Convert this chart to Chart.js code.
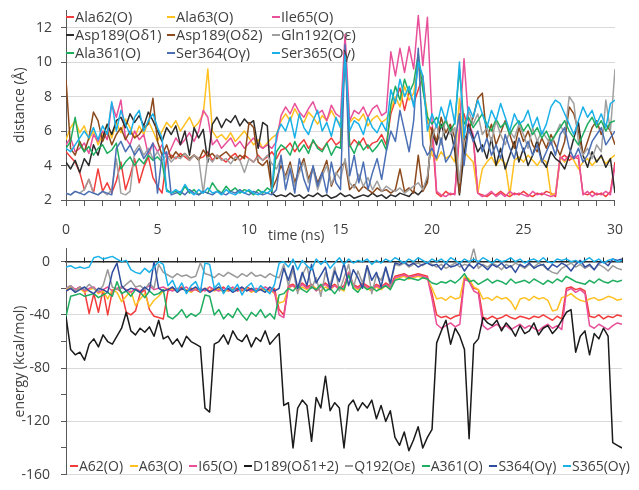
<!DOCTYPE html>
<html>
<head>
<meta charset="utf-8">
<script src="https://cdn.jsdelivr.net/npm/chart.js@4.4.1/dist/chart.umd.min.js"></script>
<style>
 body{margin:0;width:639px;height:490px;position:relative;overflow:hidden;background:#fff;font-family:"Open Sans",sans-serif;color:#404040}
 canvas{position:absolute;left:0}
 #distChart{top:-7px}
 #energyChart{top:229px}
 .legend{position:absolute;font-size:14.5px;line-height:18px;white-space:nowrap}
 #distLegend{left:66px;top:8px;display:grid;grid-template-columns:101px 105px auto;grid-auto-rows:18px}
 #energyLegend{left:70px;top:457px;width:560px;display:flex;justify-content:space-between;font-size:14px}
 .item{display:flex;align-items:center}
 .sw{display:inline-block;width:8px;height:2px;margin-right:1px}
 #timeTitle{position:absolute;left:268px;top:225px;font-size:14px;line-height:20px}
</style>
</head>
<body>
<canvas id="distChart" width="639" height="252"></canvas>
<canvas id="energyChart" width="639" height="265"></canvas>
<div id="distLegend" class="legend"></div>
<div id="energyLegend" class="legend"></div>
<div id="timeTitle">time (ns)</div>
<script>
/* ===== data ===== */
const timeNs = [
 0,0.25,0.5,0.75,1,1.25,1.5,1.75,2,2.25,2.5,2.75,3,3.25,3.5,3.75,4,4.25,4.5,4.75,
 5,5.25,5.5,5.75,6,6.25,6.5,6.75,7,7.25,7.5,7.75,8,8.25,8.5,8.75,9,9.25,9.5,9.75,
 10,10.25,10.5,10.75,11,11.25,11.5,11.75,12,12.25,12.5,12.75,13,13.25,13.5,13.75,14,14.25,14.5,14.75,
 15,15.25,15.5,15.75,16,16.25,16.5,16.75,17,17.25,17.5,17.75,18,18.25,18.5,18.75,19,19.25,19.5,19.75,
 20,20.25,20.5,20.75,21,21.25,21.5,21.75,22,22.25,22.5,22.75,23,23.25,23.5,23.75,24,24.25,24.5,24.75,
 25,25.25,25.5,25.75,26,26.25,26.5,26.75,27,27.25,27.5,27.75,28,28.25,28.5,28.75,29,29.25,29.5,29.75,
 30];

// distance (Å)
const distNames = ["Ala62(O)","Ala63(O)","Ile65(O)","Asp189(Oδ1)","Asp189(Oδ2)","Gln192(Oε)","Ala361(O)","Ser364(Oγ)","Ser365(Oγ)"];
const distColors = ["#f23c3c","#ffc020","#e8509a","#2b2b2b","#8c4a1c","#a0a0a0","#1fae5f","#4a6fb5","#1ab0e8"];

const distAla62 = [
 4.8,4.5,4.2,3.6, 2.6,3.2,2.4,3.8, 2.5,3.0,2.4,3.1, 4.2,2.6,3.4,4.4, 3.0,3.9,4.5,3.3,
 2.8,2.4,4.4,4.6, 4.4,4.7,4.5,4.3, 4.6,4.4,4.5,4.8, 4.3,4.6,4.4,4.2, 4.5,4.7,4.3,4.6,
 4.4,4.2,4.6,4.3, 4.5,4.8,4.4,4.9, 5.0,5.3,4.8,5.2, 5.5,5.0,5.4,5.1, 4.9,5.3,5.6,5.2,
 5.4,11.3,5.1,5.5, 5.2,5.6,5.0,5.3, 5.4,5.8,5.2,7.0, 7.8,8.5,7.2,8.3, 7.6,8.4,9.2,6.5,
 6.0,2.4,2.2,2.5, 2.3,2.4,5.8,7.0, 6.0,5.6,2.4,2.3, 2.2,2.4,2.3,2.5, 2.3,2.2,2.4,2.3,
 2.5,2.3,2.2,2.4, 2.3,2.5,2.4,2.2, 4.4,4.6,4.3,4.5, 4.4,2.4,2.3,2.5, 2.3,2.4,2.2,2.5,
 4.2];
const distAla63 = [
 5.5,6.2,6.6,5.9, 6.3,5.5,6.0,5.2, 5.8,6.4,5.6,6.5, 5.9,6.7,6.2,5.6, 6.3,5.8,6.6,6.0,
 5.4,6.0,6.5,6.2, 6.6,6.0,6.4,6.8, 6.2,6.5,7.0,9.6, 6.0,5.6,5.8,5.5, 5.9,5.4,5.7,6.0,
 5.6,5.2,5.5,5.0, 5.3,5.6,5.8,6.6, 7.0,6.6,7.3,6.8, 6.5,7.1,6.8,6.4, 6.9,6.6,7.2,6.7,
 6.4,10.2,6.5,6.8, 6.6,7.0,6.3,6.7, 6.9,6.5,6.7,7.2, 8.0,7.4,8.6,7.8, 8.2,9.8,8.5,7.0,
 4.6,4.3,4.8,4.4, 4.6,4.2,7.9,4.8, 4.5,4.2,2.4,3.8, 4.2,4.5,4.0,4.4, 4.1,2.3,4.3,4.5,
 4.2,4.6,4.3,4.0, 4.4,4.2,2.3,2.4, 4.5,4.2,4.6,4.3, 3.8,4.2,4.4,4.0, 4.3,4.5,4.1,4.4,
 4.6];
const distIle65 = [
 5.2,5.6,4.8,5.0, 5.3,4.7,5.8,5.4, 6.0,5.5,7.6,6.8, 7.8,5.6,5.2,6.0, 5.5,5.8,4.6,5.3,
 4.8,5.2,4.5,5.0, 5.6,5.2,5.5,5.9, 5.4,6.0,7.2,6.8, 5.2,5.5,5.0,5.3, 5.6,5.1,5.4,5.0,
 5.3,5.6,5.2,5.0, 5.2,5.0,5.4,6.9, 7.4,7.0,7.6,7.1, 6.8,7.3,7.7,7.0, 7.2,6.6,7.5,7.0,
 6.8,11.6,6.6,7.2, 7.0,7.4,6.8,7.3, 7.5,6.9,7.1,10.6, 9.2,10.8,9.4,10.9, 9.6,12.7,9.8,12.6,
 6.7,2.5,2.3,2.2, 2.4,2.3,6.2,10.2, 6.5,5.8,2.4,2.2, 2.3,2.5,2.2,2.4, 2.2,2.5,2.3,2.4,
 2.3,2.2,2.5,2.3, 2.4,2.3,2.2,2.3, 4.5,4.3,4.6,4.4, 4.6,2.3,2.5,2.2, 2.4,2.3,2.5,2.3,
 4.0];
const distAsp189d1 = [
 4.2,3.8,4.3,3.6, 4.4,4.0,5.2,4.6, 5.6,6.4,5.8,6.6, 6.8,6.2,7.0,6.5, 6.9,6.3,7.1,6.6,
 6.0,5.4,6.2,5.8, 6.3,5.2,6.0,4.6, 6.2,5.6,6.1,4.2, 6.4,6.8,6.2,6.7, 6.5,6.9,6.3,6.7,
 6.4,6.6,5.0,6.5, 6.3,2.4,2.2,2.3, 2.2,2.4,2.2,2.3, 2.1,2.3,2.2,2.4, 2.2,2.3,2.1,2.2,
 2.4,2.2,2.3,2.1, 2.2,2.3,2.2,2.4, 2.2,2.3,2.1,2.3, 2.2,2.4,2.3,2.2, 2.5,2.3,2.6,3.2,
 6.0,5.2,6.4,5.5, 6.2,4.8,2.3,4.6, 6.4,5.6,4.8,5.2, 4.4,5.6,4.0,5.0, 3.8,4.6,5.4,4.2,
 5.0,4.0,4.6,5.5, 4.3,3.9,4.8,4.4, 4.2,3.8,4.6,5.6, 6.5,4.6,3.9,4.8, 4.2,4.6,3.9,4.4,
 2.4];
const distAsp189d2 = [
 9.0,5.0,4.6,5.4, 4.8,5.6,7.1,6.6, 5.4,6.0,5.2,5.8, 6.2,5.5,6.0,5.6, 5.8,6.2,6.4,7.9,
 5.4,4.6,5.2,4.4, 4.8,4.5,4.7,4.4, 4.6,4.3,4.9,4.5, 4.7,4.4,4.6,4.8, 4.5,4.3,4.6,4.4,
 6.5,6.2,4.2,4.0, 4.3,2.6,3.2,4.0, 3.4,4.2,3.0,3.8, 4.4,3.2,3.9,3.0, 3.6,4.3,2.8,3.5,
 3.9,4.2,2.6,2.9, 2.5,2.8,2.6,2.4, 2.7,2.5,2.6,2.4, 2.6,3.8,2.5,2.7, 2.4,4.6,2.5,3.0,
 6.2,5.4,6.8,5.9, 6.4,5.6,2.4,5.5, 6.0,6.8,7.9,8.2, 5.6,6.4,5.2,5.9, 6.6,5.8,5.0,6.2,
 5.4,6.0,5.2,4.8, 5.6,5.0,5.8,5.2, 4.6,5.4,7.4,7.0, 6.0,4.6,5.4,6.2, 6.6,5.8,6.4,6.0,
 5.2];
const distGln192 = [
 2.4,2.3,2.5,2.4, 2.6,3.2,2.4,2.3, 2.5,2.3,2.6,4.4, 2.4,2.3,2.5,4.8, 5.2,4.6,5.0,4.4,
 4.8,4.3,4.6,4.2, 4.5,4.4,4.7,4.3, 4.6,4.4,2.4,4.5, 4.2,4.6,4.3,4.4, 4.1,4.5,4.3,3.6,
 4.4,4.2,4.5,4.3, 4.6,4.1,3.8,4.4, 3.2,4.0,2.8,3.6, 4.2,3.0,3.8,2.6, 3.4,4.0,2.9,3.6,
 3.2,4.4,3.0,2.7, 3.5,2.8,3.3,2.6, 3.1,2.5,2.8,2.6, 2.5,2.7,2.4,2.6, 2.8,3.0,2.6,3.4,
 5.6,6.4,5.2,6.8, 5.8,6.2,3.0,6.0, 7.2,6.4,7.0,5.8, 6.2,5.4,6.6,5.8, 5.2,6.0,5.6,6.4,
 5.8,5.0,6.2,5.4, 6.0,5.6,5.2,5.8, 6.4,5.8,8.0,7.6, 5.4,4.6,5.0,4.4, 5.2,4.8,7.8,6.0,
 9.6];
const distAla361 = [
 5.0,5.4,6.8,5.2, 4.8,5.1,4.6,5.0, 5.2,4.7,4.9,5.3, 3.8,4.2,4.5,4.0, 4.4,4.1,4.6,4.3,
 4.5,4.2,2.6,2.4, 2.5,2.3,2.8,2.4, 2.6,2.3,2.5,2.4, 3.0,2.6,2.4,2.8, 2.5,2.7,2.4,2.6,
 2.5,2.3,2.6,2.4, 2.7,2.5,4.8,5.2, 5.0,4.6,5.4,4.8, 5.2,4.7,5.5,5.0, 4.8,5.3,4.6,5.1,
 5.0,10.6,5.2,4.7, 5.4,4.9,5.2,4.8, 5.1,5.5,4.9,7.5, 8.6,7.8,9.0,8.2, 8.8,10.5,8.4,6.8,
 6.4,6.8,6.2,6.6, 6.0,6.5,9.6,6.4, 6.8,6.2,6.6,7.0, 6.4,6.0,6.7,6.2, 6.5,5.8,6.3,6.6,
 6.0,6.4,5.8,6.2, 5.6,6.0,5.4,5.8, 6.2,6.6,6.0,5.6, 5.2,5.8,6.4,6.8, 6.2,6.6,6.0,6.5,
 6.6];
const distSer364 = [
 2.4,2.3,2.5,2.4, 2.3,2.5,2.4,2.3, 2.5,2.4,2.3,5.0, 5.4,4.8,5.2,4.6, 5.0,4.4,4.8,5.3,
 2.4,4.6,4.8,2.3, 2.4,2.5,2.3,2.6, 2.4,2.3,2.5,2.4, 2.3,2.5,2.4,2.3, 2.5,2.4,2.6,2.4,
 2.3,2.5,2.4,2.3, 2.4,2.3,2.6,4.6, 2.6,3.8,2.4,4.4, 3.2,2.5,4.0,2.8, 3.6,2.4,4.2,3.0,
 2.6,11.0,3.4,4.6, 3.0,4.2,2.6,3.6, 4.4,3.2,4.8,6.0, 5.4,7.2,6.0,4.8, 6.6,10.8,5.2,4.6,
 5.0,4.4,5.6,4.2, 4.6,5.4,7.0,4.0, 6.2,5.4,6.0,4.8, 5.6,4.6,5.2,4.4, 5.8,5.0,4.4,5.6,
 4.8,5.4,4.6,5.2, 4.2,4.8,5.4,4.6, 5.8,6.2,5.0,4.4, 5.0,4.2,4.6,5.4, 5.8,6.2,5.2,5.6,
 6.0];
const distSer365 = [
 5.0,4.8,5.2,5.6, 6.0,5.6,6.2,5.5, 6.3,5.8,7.7,6.0, 7.2,6.4,5.8,6.8, 7.2,6.0,6.6,7.0,
 6.2,5.6,2.5,2.4, 2.6,2.4,2.9,2.5, 2.3,2.6,2.4,2.7, 2.4,2.5,2.3,2.6, 2.4,2.3,2.5,2.4,
 2.6,2.4,2.3,2.5, 2.4,2.6,5.8,6.4, 6.0,6.8,5.6,7.0, 6.2,5.8,6.6,7.2, 6.0,6.5,5.7,6.8,
 6.2,10.4,6.0,6.6, 6.4,5.8,6.8,6.2, 5.9,6.5,6.0,8.4, 7.6,9.0,8.0,8.6, 7.4,10.0,9.2,6.0,
 7.0,6.2,7.4,6.6, 7.8,6.4,10.0,5.6, 7.4,6.8,7.8,7.0, 6.2,7.2,6.6,7.6, 6.8,6.0,7.0,6.4,
 6.6,7.2,6.2,6.8, 5.8,6.4,7.4,7.8, 7.6,7.0,6.4,5.8, 6.6,7.4,6.8,7.2, 6.4,7.0,6.2,7.6,
 7.8];

// energy (kcal/mol)
const energyNames = ["A62(O)","A63(O)","I65(O)","D189(Oδ1+2)","Q192(Oε)","A361(O)","S364(Oγ)","S365(Oγ)"];
const energyColors = ["#f23c3c","#ffc020","#e8509a","#1a1a1a","#9a9a9a","#1fae5f","#2f4d9e","#1ab0e8"];

const enA62 = [
 -22,-20,-21,-19, -22,-39,-24,-38, -21,-40,-22,-20, -23,-38,-40,-37, -24,-21,-36,-41,
 -42,-43,-22,-20, -21,-19,-22,-20, -21,-23,-20,-22, -20,-21,-19,-22, -21,-20,-22,-19,
 -21,-23,-20,-21, -22,-20,-36,-40, -18,-17,-20,-16, -19,-17,-21,-18, -16,-19,-17,-20,
 -18,-8,-17,-19, -16,-18,-20,-17, -19,-16,-18,-11, -10,-9,-11,-10, -9,-10,-11,-24,
 -40,-42,-41,-43, -41,-40,-12,-14, -20,-21,-42,-43, -41,-43,-42,-40, -42,-43,-41,-42,
 -43,-41,-42,-40, -42,-44,-41,-43, -20,-19,-21,-20, -22,-41,-42,-40, -43,-41,-42,-40,
 -41];
const enA63 = [
 -21,-19,-22,-20, -23,-21,-20,-24, -22,-28,-21,-23, -30,-26,-22,-33, -28,-24,-34,-29,
 -26,-22,-20,-21, -22,-20,-21,-23, -20,-22,-21,-19, -22,-20,-23,-21, -20,-22,-21,-20,
 -23,-21,-20,-22, -21,-24,-31,-30, -20,-18,-22,-19, -21,-18,-20,-22, -19,-21,-18,-20,
 -22,-8,-19,-21, -18,-20,-22,-19, -21,-18,-20,-13, -12,-11,-13,-12, -11,-12,-13,-20,
 -28,-27,-29,-26, -28,-27,-11,-13, -19,-21,-28,-27, -29,-26,-28,-27, -30,-36,-28,-27,
 -29,-26,-28,-27, -29,-37,-36,-27, -26,-24,-27,-29, -30,-28,-27,-29, -28,-26,-27,-29,
 -28];
const enI65 = [
 -20,-18,-21,-19, -22,-20,-19,-23, -21,-19,-22,-20, -19,-21,-23,-20, -22,-20,-18,-21,
 -20,-19,-21,-22, -20,-21,-19,-22, -21,-20,-22,-19, -21,-22,-20,-21, -19,-22,-20,-21,
 -22,-20,-21,-19, -21,-23,-40,-42, -19,-18,-21,-17, -20,-18,-22,-19, -17,-20,-18,-21,
 -19,-8,-18,-20, -17,-19,-21,-18, -20,-17,-19,-12, -11,-10,-12,-11, -10,-11,-12,-28,
 -47,-50,-48,-46, -49,-47,-13,-15, -22,-24,-48,-51, -49,-47,-50,-48, -51,-49,-47,-50,
 -48,-50,-52,-49, -47,-50,-48,-51, -22,-20,-23,-21, -24,-48,-50,-47, -49,-51,-48,-46,
 -47];
const enD189 = [
 -41,-66,-70,-68, -74,-62,-58,-64, -55,-60,-62,-56, -50,-38,-52,-55, -50,-53,-49,-56,
 -44,-58,-56,-62, -58,-64,-56,-60, -62,-64,-110,-113, -62,-60,-55,-62, -52,-58,-60,-55,
 -64,-57,-60,-52, -62,-58,-54,-108, -106,-140,-110,-104, -108,-135,-102,-110, -86,-112,-106,-110,
 -140,-108,-104,-112, -106,-110,-104,-118, -108,-120,-112,-132, -138,-128,-142,-134, -124,-140,-132,-126,
 -61,-52,-44,-62, -50,-56,-66,-133, -62,-58,-42,-46, -48,-44,-52,-46, -50,-56,-48,-54,
 -52,-46,-55,-50, -48,-54,-50,-44, -38,-36,-68,-56, -52,-70,-54,-58, -50,-56,-136,-138,
 -140];
const enQ192 = [
 -20,-18,-22,-19, -21,-17,-20,-22, -18,-6,-19,-21, -20,-17,-14,-19, -18,-21,-16,-20,
 -2,-8,-10,-12, -9,-11,-10,-12, -11,-1,-9,-10, -12,-9,-11,-8, -10,-12,-9,-11,
 -8,-11,-10,-12, -9,-11,-12,-2, -18,-6,-24,-10, -3,-20,-12,-26, -8,-18,-4,-22,
 -12,-2,-20,-7, -16,-3,-24,-10, -14,-5,-18,-2, -3,-1,-4,-2, -1,-3,0,-2,
 -4,-2,-5,-3, -1,-4,-2,-3, 10,-5,-2,-4, -1,-3,-6,-2, -4,-1,-3,-5,
 -2,-4,-1,-3, -6,-8,-9,-5, -3,-1,-4,-2, -5,-3,-6,-2, -4,-7,-3,-5,
 -6];
const enA361 = [
 -41,-26,-25,-24, -26,-25,-24,-27, -25,-23,-26,-15, -24,-22,-26,-21, -23,-27,-22,-25,
 -24,-21,-41,-43, -40,-36,-42,-39, -41,-38,-25,-26, -40,-36,-43,-39, -42,-35,-40,-44,
 -38,-41,-36,-42, -39,-43,-25,-24, -20,-22,-18,-21, -23,-19,-21,-17, -22,-20,-24,-19,
 -21,-10,-20,-23, -18,-21,-19,-22, -20,-18,-21,-14, -13,-14,-12,-13, -14,-12,-13,-16,
 -17,-15,-16,-14, -16,-13,-9,-15, -14,-17,-15,-13, -16,-14,-15,-17, -13,-16,-15,-14,
 -16,-13,-15,-17, -14,-16,-13,-15, -11,-13,-15,-16, -17,-14,-16,-13, -15,-16,-14,-15,
 -14];
const enS364 = [
 -22,-20,-23,-21, -19,-22,-24,-20, -21,-23,-8,-1, -18,-22,-20,-21, -23,-19,-22,0,
 -20,-22,-21,-19, -23,-20,-22,-21, -19,-22,-20,-23, -21,-19,-22,-20, -23,-21,-19,-22,
 -20,-22,-21,-23, -19,-22,-20,-5, -14,-3,-20,-8, -18,-2,-16,-10, -4,-21,-7,-15,
 -1,-18,-6,-12, -20,-3,-14,-8, -19,-4,-16,-1, -2,0,-3,-1, -4,-2,-1,-3,
 -2,-6,-1,-4, -3,-1,-7,-2, -5,-1,-3,-6, -2,-4,-1,-5, -3,-8,-2,-4,
 -1,-5,-3,-2, -6,-2,-4,-1, -3,-7,-2,1, -4,-2,-6,-1, 0,-3,2,1,
 2];
const enS365 = [
 -4,-3,-5,-4, -5,-4,3,4, 2,3,4,2, 0,1,-6,-8, -9,-5,-8,-4,
 0,-2,-18,-14, -22,-16,-24,-18, -15,-23,-1,-2, -20,-16,-24,-18, -22,-17,-25,-19,
 -16,-23,-18,-21, -24,-17,-1,0, -4,2,-6,1, -3,-6,2,-2, 1,-5,-1,3,
 -2,2,-1,1, 0,2,-2,1, -1,2,0,3, 1,-1,2,0, 3,1,-1,2,
 0,2,-1,3, 1,-1,2,0, 2,0,3,1, -1,2,0,1, 3,0,2,-1,
 1,2,0,3, 0,-1,2,1, 2,0,1,-1, 1,3,0,2, -1,1,2,0,
 1];

const distSeries = [distAla62,distAla63,distIle65,distAsp189d1,distAsp189d2,distGln192,distAla361,distSer364,distSer365];
const energySeries = [enA62,enA63,enI65,enD189,enQ192,enA361,enS364,enS365];

/* ===== helpers ===== */
const TXT = "#404040", AXIS = "#595959", GRID = "#d9d9d9", NONE = "rgba(0,0,0,0)";
const tickFont = {family:"Open Sans", size:14};
const titleFont = {family:"Open Sans", size:14};

function makeSets(series, colors){
 return series.map((vals,i)=>({
  label: "s"+i, data: vals, borderColor: colors[i], borderWidth: 1.5,
  pointRadius: 0, tension: 0, fill: false, order: series.length - i
 }));
}

function makeLegend(el, names, colors){
 names.forEach((n,i)=>{
  const it = document.createElement("div");
  it.className = "item";
  it.innerHTML = `<span class="sw" style="background:${colors[i]}"></span><span>${n}</span>`;
  el.appendChild(it);
 });
}

const base = {
 responsive: false, animation: false, devicePixelRatio: 1,
 plugins: {legend:{display:false}, tooltip:{enabled:false}},
 elements: {line:{borderJoinStyle:"round"}}
};

/* ===== top: distance ===== */
new Chart(document.getElementById("distChart"), {
 type: "line",
 data: {labels: timeNs, datasets: makeSets(distSeries, distColors)},
 options: {
  ...base,
  layout: {padding:{left:0,right:17,top:0,bottom:0}},
  scales: {
   x: {
    type: "linear", min: 0, max: 30,
    afterFit: s => { s.height = 45; },
    border: {color: AXIS},
    grid: {drawOnChartArea: false, tickColor: AXIS, tickLength: 6},
    ticks: {stepSize: 1, autoSkip: false, maxRotation: 0, padding: 16, color: TXT, font: tickFont,
     callback: v => v % 5 === 0 ? v : ""}
   },
   y: {
    min: 2, max: 13,
    afterFit: s => { s.width = 66; },
    border: {color: AXIS},
    grid: {color: c => (c.tick.value % 2 === 0 && c.tick.value > 2) ? GRID : NONE, tickColor: AXIS, tickLength: 5},
    ticks: {stepSize: 1, includeBounds: false, padding: 9, color: TXT, font: tickFont,
     callback: v => v % 2 === 0 ? v : ""},
    title: {display: true, text: "distance (Å)", color: TXT, font: titleFont, padding: {top: 12, bottom: 0}}
   }
  }
 }
});

/* ===== bottom: energy ===== */
new Chart(document.getElementById("energyChart"), {
 type: "line",
 data: {labels: timeNs, datasets: makeSets(energySeries, energyColors)},
 options: {
  ...base,
  layout: {padding:{left:0,right:17,top:0,bottom:0}},
  scales: {
   x: {
    type: "linear", min: 0, max: 30, position: {y: 0},
    border: {color: "#262626", width: 1.5},
    grid: {drawOnChartArea: false, tickColor: "#262626", tickLength: -5},
    ticks: {stepSize: 1, autoSkip: false, callback: () => ""}
   },
   y: {
    min: -160, max: 10,
    afterFit: s => { s.width = 66; },
    border: {color: AXIS},
    grid: {color: c => (c.tick.value % 40 === 0 && c.tick.value !== 0) ? GRID : NONE, tickColor: AXIS, tickLength: 5},
    ticks: {stepSize: 20, includeBounds: false, padding: 11, color: TXT, font: tickFont,
     callback: v => v % 40 === 0 ? v : ""},
    title: {display: true, text: "energy (kcal/mol)", color: TXT, font: titleFont, padding: {top: 12, bottom: 0}}
   }
  }
 }
});

makeLegend(document.getElementById("distLegend"), distNames, distColors);
makeLegend(document.getElementById("energyLegend"), energyNames, energyColors);
</script>
</body>
</html>
